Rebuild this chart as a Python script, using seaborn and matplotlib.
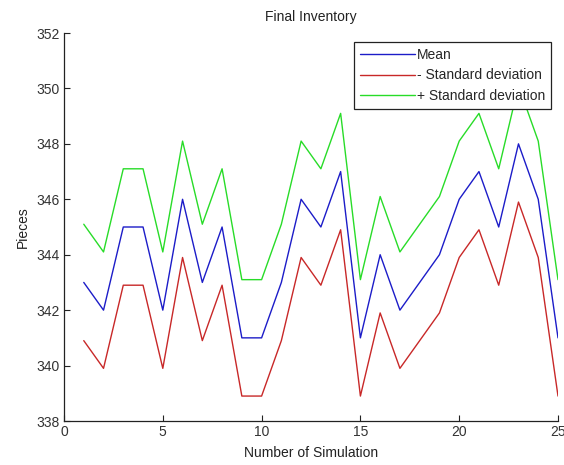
import matplotlib
matplotlib.use("Agg")
import matplotlib.pyplot as plt
import seaborn as sns
import pandas as pd

# Simulation runs and inventory statistics
simulation = list(range(1, 26))
mean_vals = [343, 342, 345, 345, 342, 346, 343, 345, 341, 341, 343, 346, 345,
             347, 341, 344, 342, 343, 344, 346, 347, 345, 348, 346, 341]
lower_vals = [340.9, 339.9, 342.9, 342.9, 339.9, 343.9, 340.9, 342.9, 338.9, 338.9,
              340.9, 343.9, 342.9, 344.9, 338.9, 341.9, 339.9, 340.9, 341.9, 343.9,
              344.9, 342.9, 345.9, 343.9, 338.9]
upper_vals = [345.1, 344.1, 347.1, 347.1, 344.1, 348.1, 345.1, 347.1, 343.1, 343.1,
              345.1, 348.1, 347.1, 349.1, 343.1, 346.1, 344.1, 345.1, 346.1, 348.1,
              349.1, 347.1, 350.1, 348.1, 343.1]
series_names = ["Mean", "- Standard deviation", "+ Standard deviation"]

df = pd.concat([
    pd.DataFrame({"sim": simulation, "value": vals, "series": name})
    for name, vals in zip(series_names, [mean_vals, lower_vals, upper_vals])
], ignore_index=True)

sns.set_style("white")
plt.rcParams["font.family"] = ["Liberation Sans", "DejaVu Sans"]
plt.rcParams["font.size"] = 10

fig = plt.figure(figsize=(5.64, 4.65), dpi=100)
ax = fig.add_axes([64 / 564, 44 / 465, 494 / 564, 388 / 465])

palette = {"Mean": "#1c1cc8", "- Standard deviation": "#c82828",
           "+ Standard deviation": "#28dc28"}
sns.lineplot(data=df, x="sim", y="value", hue="series", palette=palette,
             hue_order=series_names, linewidth=1.0, ax=ax)

ax.set_xlim(0, 25)
ax.set_ylim(338, 352)
ax.set_xticks(range(0, 26, 5))
ax.set_yticks(range(338, 353, 2))
ax.tick_params(direction="in", length=4, width=0.8, colors="#222222",
               labelsize=10, labelcolor="#333333", left=True, bottom=True, pad=3)
for side in ["top", "right"]:
    ax.spines[side].set_visible(False)
for side in ["left", "bottom"]:
    ax.spines[side].set_color("#222222")
    ax.spines[side].set_linewidth(0.9)

ax.set_title("Final Inventory", fontsize=10, pad=9, color="#222222")
ax.set_xlabel("Number of Simulation", fontsize=10, labelpad=5, color="#222222")
ax.set_ylabel("Pieces", fontsize=10, labelpad=5, color="#222222")

leg = ax.legend(loc="upper right", bbox_to_anchor=(0.986, 0.977),
                borderaxespad=0, fontsize=10, frameon=True, fancybox=False,
                handlelength=3.9, handletextpad=0.15, labelspacing=0.45,
                borderpad=0.45)
leg.get_frame().set_edgecolor("#222222")
leg.get_frame().set_linewidth(0.9)
leg.get_frame().set_alpha(1)

fig.savefig("out.png", dpi=100)
